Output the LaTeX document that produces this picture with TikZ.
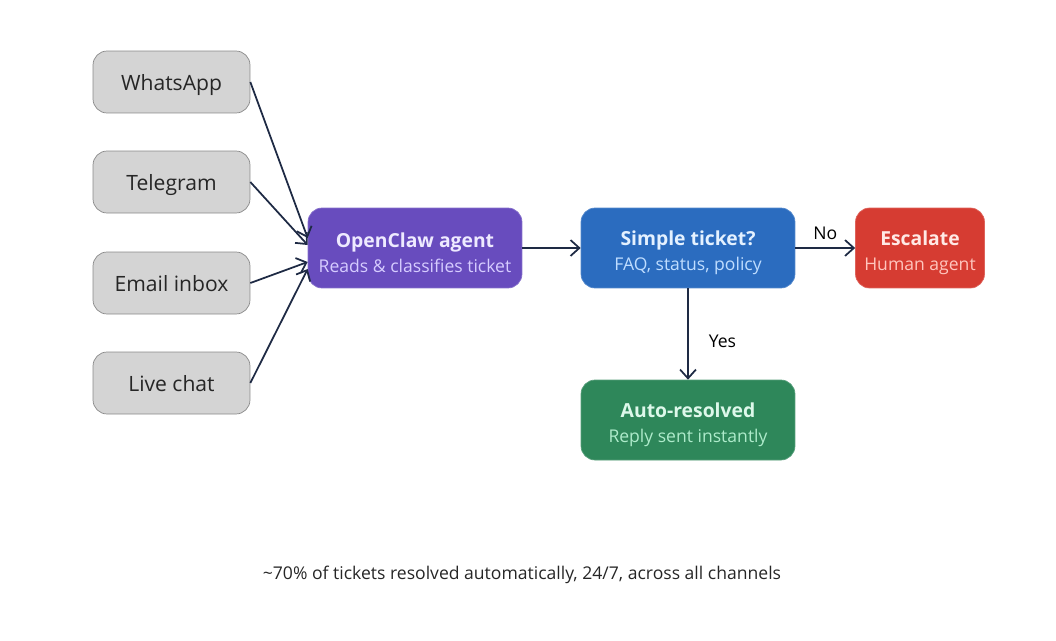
\documentclass[tikz,border=0pt]{standalone}
\usepackage{fontspec}
\setmainfont{Open Sans}
\usetikzlibrary{arrows.meta}
\definecolor{srcfill}{HTML}{D4D4D4}
\definecolor{srcline}{HTML}{8A8A8A}
\definecolor{agentc}{HTML}{684CBE}
\definecolor{checkc}{HTML}{2B6CBF}
\definecolor{escc}{HTML}{D63C32}
\definecolor{autoc}{HTML}{2E875A}
\definecolor{linkc}{HTML}{1E2A44}
\tikzset{
  source/.style={draw=srcline, fill=srcfill, rounded corners=8pt, minimum width=3.14cm,
    minimum height=1.24cm, text depth=0pt, font=\fontsize{12}{14}\selectfont, text=black!85},
  stage/.style={rounded corners=8pt, minimum width=4.28cm, minimum height=1.6cm, align=center},
  link/.style={draw=linkc, line width=1pt, -{Straight Barb[length=5pt,width=9pt]}}
}
\begin{document}
\begin{tikzpicture}[x=0.02cm, y=-0.02cm]
    \useasboundingbox (0,0) rectangle (1056,640);
    % channels
    \node[source] (whatsapp) at (171.5,82) {WhatsApp};
    \node[source] (telegram) at (171.5,182) {Telegram};
    \node[source] (email) at (171.5,283) {Email inbox};
    \node[source] (livechat) at (171.5,383) {Live chat};
    % main flow
    \node[stage, fill=agentc, draw=agentc!80!white] (agent) at (415,248)
        {\rule{0pt}{14pt}\textcolor[HTML]{EEEAFF}{\fontsize{11}{13}\selectfont\bfseries OpenClaw agent}\\[2pt]
         \textcolor[HTML]{D6CCFF}{\fontsize{10}{12}\selectfont Reads \& classifies ticket}};
    \node[stage, fill=checkc, draw=checkc!80!white] (simple) at (688,248)
        {\rule{0pt}{14pt}\textcolor[HTML]{E4F1FF}{\fontsize{11}{13}\selectfont\bfseries Simple ticket?}\\[2pt]
         \textcolor[HTML]{BFDDFF}{\fontsize{10}{12}\selectfont FAQ, status, policy}};
    \node[stage, fill=escc, draw=escc!80!white, minimum width=2.58cm] (escalate) at (920,248)
        {\rule{0pt}{14pt}\textcolor[HTML]{FFE9E5}{\fontsize{11}{13}\selectfont\bfseries Escalate}\\[2pt]
         \textcolor[HTML]{FFC6BE}{\fontsize{10}{12}\selectfont Human agent}};
    \node[stage, fill=autoc, draw=autoc!80!white] (auto) at (688,420)
        {\rule{0pt}{14pt}\textcolor[HTML]{DDF8EA}{\fontsize{11}{13}\selectfont\bfseries Auto-resolved}\\[2pt]
         \textcolor[HTML]{AEEBCB}{\fontsize{10}{12}\selectfont Reply sent instantly}};
    % connectors
    \draw[link] (whatsapp.east) -- ([yshift=0.2cm]agent.west);
    \draw[link] (telegram.east) -- ([yshift=0.06cm]agent.west);
    \draw[link] (email.east) -- ([yshift=-0.28cm]agent.west);
    \draw[link] (livechat.east) -- ([yshift=-0.42cm]agent.west);
    \draw[link] (agent) -- (simple);
    \draw[link] (simple) -- (escalate) node[midway, above, yshift=1pt, font=\fontsize{10}{12}\selectfont] {No};
    \draw[link] (simple) -- (auto) node[pos=0.58, right, xshift=8pt, font=\fontsize{10}{12}\selectfont] {Yes};
    % footnote
    \node[font=\fontsize{10}{12}\selectfont, text=black!85] (note) at (522,575)
        {\textasciitilde 70\% of tickets resolved automatically, 24/7, across all channels};
\end{tikzpicture}
\end{document}
